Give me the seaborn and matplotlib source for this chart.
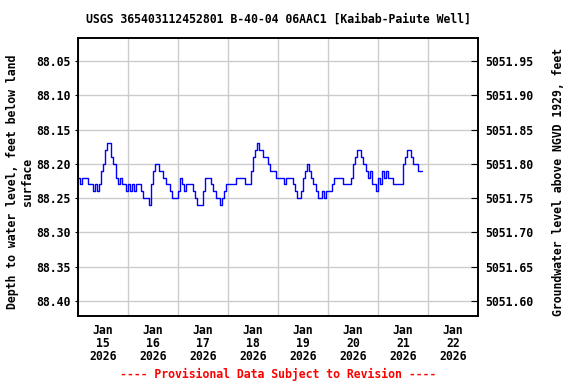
# USGS groundwater level chart (Kaibab-Paiute Well), seaborn + matplotlib
import pandas as pd
import matplotlib
matplotlib.use("Agg")
import matplotlib.pyplot as plt
import matplotlib.dates as mdates
import seaborn as sns

# 1. Data: hourly depth to water (feet below land surface), starting Jan 15 2026 00:00
start_time = "2026-01-15 00:00"
depth_ft = [
    88.22, 88.23, 88.22, 88.22, 88.22, 88.23, 88.23, 88.24, 88.23, 88.24,
    88.23, 88.21, 88.20, 88.18, 88.17, 88.17, 88.19, 88.20, 88.22, 88.23,
    88.22, 88.23, 88.23, 88.24, 88.23, 88.24, 88.23, 88.24, 88.23, 88.23,
    88.24, 88.25, 88.25, 88.25, 88.26, 88.23, 88.21, 88.20, 88.20, 88.21,
    88.21, 88.22, 88.23, 88.23, 88.24, 88.25, 88.25, 88.25, 88.24, 88.22,
    88.23, 88.24, 88.23, 88.23, 88.23, 88.24, 88.25, 88.26, 88.26, 88.26,
    88.24, 88.22, 88.22, 88.22, 88.23, 88.24, 88.25, 88.25, 88.26, 88.25,
    88.24, 88.23, 88.23, 88.23, 88.23, 88.23, 88.22, 88.22, 88.22, 88.22,
    88.23, 88.23, 88.23, 88.21, 88.19, 88.18, 88.17, 88.18, 88.18, 88.19,
    88.19, 88.20, 88.21, 88.21, 88.21, 88.22, 88.22, 88.22, 88.22, 88.23,
    88.22, 88.22, 88.22, 88.23, 88.24, 88.25, 88.25, 88.24, 88.22, 88.21,
    88.20, 88.21, 88.22, 88.23, 88.24, 88.25, 88.25, 88.24, 88.25, 88.24,
    88.24, 88.24, 88.23, 88.22, 88.22, 88.22, 88.22, 88.23, 88.23, 88.23,
    88.23, 88.22, 88.20, 88.19, 88.18, 88.18, 88.19, 88.20, 88.21, 88.22,
    88.21, 88.23, 88.23, 88.24, 88.22, 88.23, 88.21, 88.22, 88.21, 88.22,
    88.22, 88.23, 88.23, 88.23, 88.23, 88.23, 88.20, 88.19, 88.18, 88.18,
    88.19, 88.20, 88.20, 88.21, 88.21, 88.21,
]
depth_ticks = [88.05, 88.10, 88.15, 88.20, 88.25, 88.30, 88.35, 88.40]
datum_offset = 5140.00  # land surface elevation, NGVD 1929
elev_ticks = [5051.95, 5051.90, 5051.85, 5051.80, 5051.75, 5051.70, 5051.65, 5051.60]

title = "USGS 365403112452801 B-40-04 06AAC1 [Kaibab-Paiute Well]"
left_label = "Depth to water level, feet below land\nsurface"
right_label = "Groundwater level above NGVD 1929, feet"
footer = "---- Provisional Data Subject to Revision ----"

df = pd.DataFrame({
    "time": pd.date_range(start_time, periods=len(depth_ft), freq="h"),
    "depth": depth_ft,
})

# 2. Style
sns.set_style("white")
plt.rcParams["font.family"] = ["DejaVu Sans Mono"]
plt.rcParams["font.weight"] = "bold"
plt.rcParams["text.color"] = "black"
plt.rcParams["xtick.color"] = "black"
plt.rcParams["ytick.color"] = "black"
plt.rcParams["axes.labelcolor"] = "black"
FS = 8.3

fig = plt.figure(figsize=(5.76, 3.84), dpi=100)
ax = fig.add_axes([78 / 576, 1 - 316 / 384, 400 / 576, 278 / 384])

sns.lineplot(data=df, x="time", y="depth", ax=ax, color="#0000ff",
             linewidth=1.0, drawstyle="steps-post")

# 3. Axes
ax.set_xlim(pd.Timestamp("2026-01-15"), pd.Timestamp("2026-01-23"))
ax.set_ylim(88.4219, 88.0165)
ax.set_yticks(depth_ticks)
ax.set_yticklabels([f"{v:.2f}" for v in depth_ticks], fontsize=FS, fontweight="bold")

ax.xaxis.set_major_locator(mdates.HourLocator(byhour=12))
ax.xaxis.set_major_formatter(mdates.DateFormatter("%b\n%d\n%Y"))
ax.xaxis.set_minor_locator(mdates.DayLocator())
for lbl in ax.get_xticklabels():
    lbl.set_fontsize(FS)
    lbl.set_fontweight("bold")
    lbl.set_linespacing(1.0)
ax.tick_params(axis="x", which="major", length=0, pad=6)
ax.tick_params(axis="x", which="minor", length=4, direction="in", width=0.8)
ax.tick_params(axis="y", which="major", length=2.5, direction="out", width=0.8, pad=2.5)

ax.grid(True, which="minor", axis="x", color="#cccccc", linewidth=1.0)
ax.grid(True, which="major", axis="y", color="#cccccc", linewidth=1.0)
ax.set_axisbelow(True)
ax.set_xlabel("")
ax.set_ylabel("")
for s in ax.spines.values():
    s.set_color("black")
    s.set_linewidth(1.2)

ax2 = ax.twinx()
ax2.set_ylim(datum_offset - 88.4219, datum_offset - 88.0165)
ax2.set_yticks(elev_ticks)
ax2.set_yticklabels([f"{v:.2f}" for v in elev_ticks], fontsize=FS, fontweight="bold")
ax2.tick_params(axis="y", length=5, direction="in", width=0.8, pad=5)
for s in ax2.spines.values():
    s.set_color("black")
    s.set_linewidth(1.2)

# 4. Texts
ax.set_title(title, fontsize=FS, fontweight="bold", pad=11, color="black")
fig.text(20 / 576, 0.527, left_label, rotation=90, ha="center", va="center",
         multialignment="center", fontsize=FS, fontweight="bold", linespacing=1.1)
fig.text(558 / 576, 0.527, right_label, rotation=90, ha="center", va="center",
         fontsize=FS, fontweight="bold")
fig.text(278 / 576, 1 - 374 / 384, footer, ha="center", va="center",
         color="red", fontsize=FS, fontweight="bold")

fig.savefig("out.png", dpi=100)
